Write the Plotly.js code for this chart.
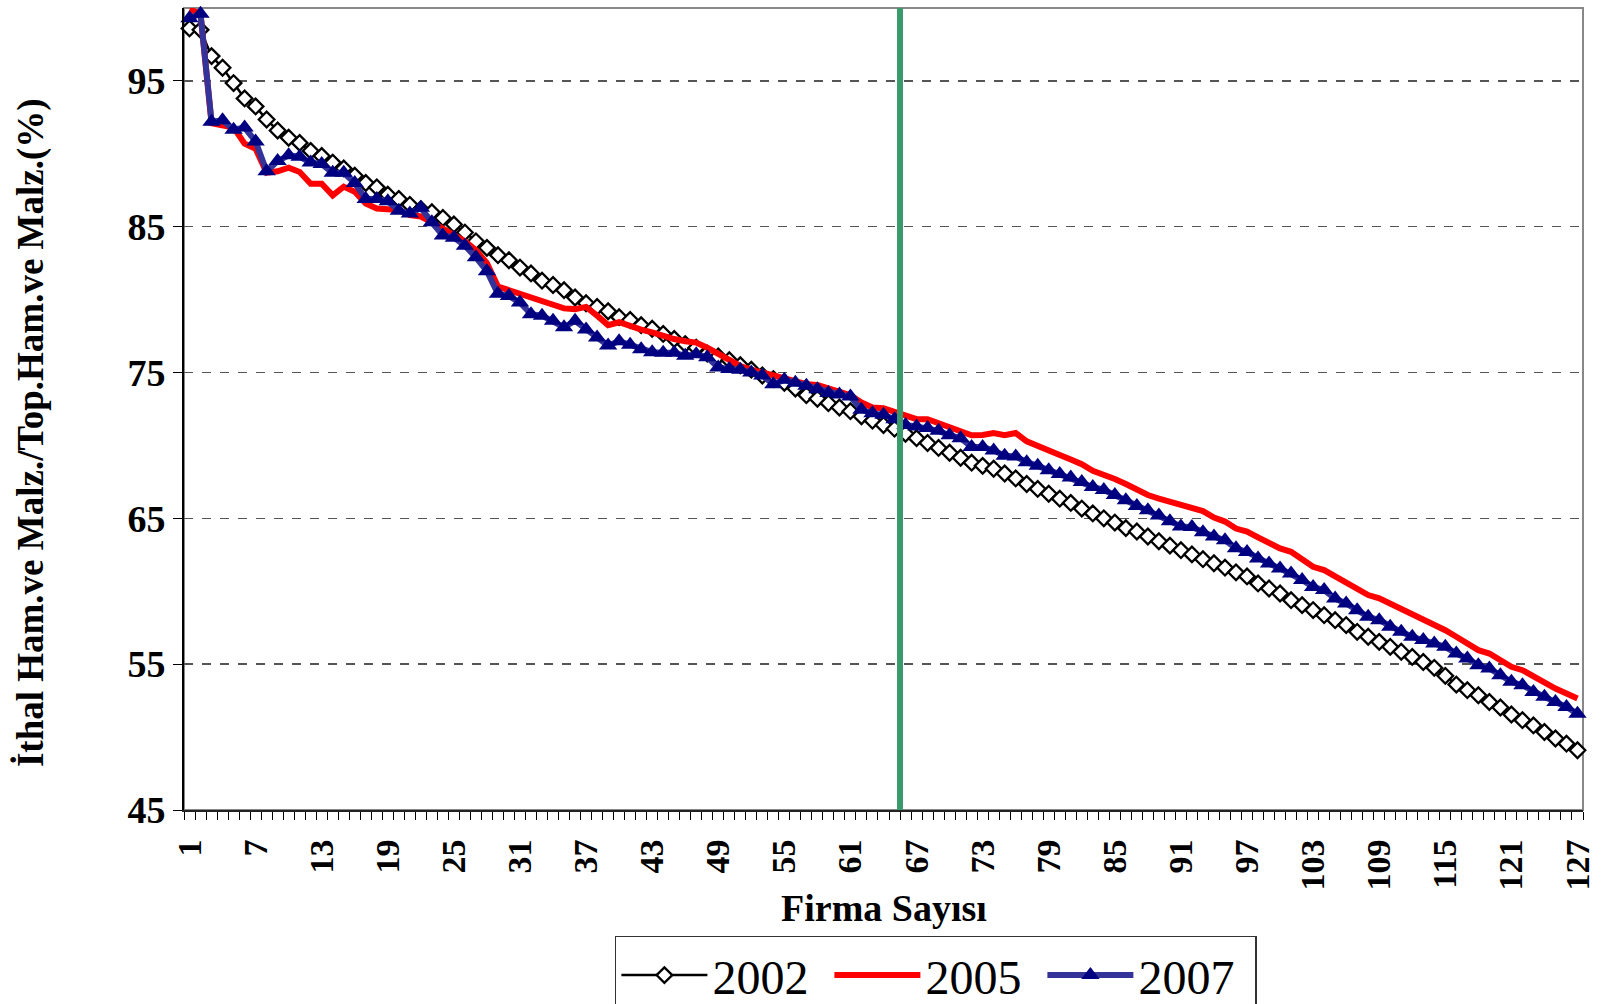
<!DOCTYPE html>
<html>
<head>
<meta charset="utf-8">
<script src="https://cdn.plot.ly/plotly-3.0.1.min.js"></script>
<style>html,body{margin:0;padding:0;background:#fff;}#chart{width:1603px;height:1004px;}</style>
</head>
<body>
<div id="chart"></div>
<script>
// Firm index (category axis 1..127)
const firms = Array.from({length: 127}, (_, i) => i + 1);

const xTickVals = [1,7,13,19,25,31,37,43,49,55,61,67,73,79,85,91,97,103,109,115,121,127];
const yTickVals = [45,55,65,75,85,95];

const y2002 = [98.6,98.5,96.7,95.9,94.85,93.8,93.25,92.35,91.6,91.1,
90.75,90.2,89.85,89.4,89.0,88.5,88.0,87.7,87.2,86.9,
86.5,86.2,86.0,85.6,85.15,84.6,84.0,83.55,83.05,82.7,
82.2,81.8,81.3,81.0,80.65,80.15,79.75,79.5,79.2,78.8,
78.6,78.25,78.0,77.65,77.3,76.95,76.7,76.3,76.1,75.85,
75.5,75.2,74.8,74.55,74.3,73.9,73.45,73.2,72.9,72.6,
72.35,72.0,71.7,71.4,71.15,70.8,70.5,70.17,69.83,69.5,
69.16,68.82,68.6,68.4,68.08,67.74,67.36,67.02,66.69,66.35,
66.06,65.67,65.34,65.0,64.71,64.33,64.1,63.76,63.43,63.13,
62.82,62.53,62.2,61.92,61.62,61.3,61.02,60.54,60.19,59.85,
59.39,59.05,58.71,58.36,58.02,57.68,57.22,56.88,56.53,56.19,
55.85,55.5,55.15,54.75,54.2,53.6,53.22,52.87,52.41,52.03,
51.55,51.16,50.8,50.35,49.9,49.55,49.1];

const y2005 = [99.9,99.6,92.1,91.95,91.8,90.7,90.35,88.7,88.8,89.05,
88.75,87.95,87.95,87.15,87.75,87.4,86.6,86.25,86.2,86.15,
85.8,85.7,85.3,84.85,84.4,84.0,83.4,82.5,80.9,80.65,
80.45,80.2,79.9,79.75,79.4,79.35,79.5,78.9,78.25,78.45,
78.15,77.95,77.75,77.5,77.3,77.15,77.05,76.7,76.25,75.9,
75.45,75.2,75.0,74.75,74.55,74.3,74.2,74.15,73.95,73.7,
73.45,72.95,72.6,72.55,72.3,72.1,71.8,71.8,71.5,71.3,
71.0,70.7,70.72,70.85,70.7,70.85,70.28,69.94,69.65,69.34,
69.04,68.71,68.26,68.03,67.7,67.36,66.96,66.6,66.35,66.12,
65.9,65.67,65.5,65.05,64.78,64.3,64.1,63.7,63.28,62.94,
62.71,62.25,61.68,61.45,61.0,60.54,60.08,59.74,59.51,59.16,
58.71,58.36,58.02,57.68,57.33,56.88,56.42,55.96,55.73,55.32,
54.82,54.59,54.13,53.79,53.33,52.99,52.64];

const y2007 = [99.3,99.6,92.2,92.3,91.65,91.8,90.85,88.8,89.5,89.9,
89.8,89.4,89.3,88.7,88.7,88.0,86.9,86.9,86.75,86.1,
85.9,86.3,85.3,84.4,84.25,83.7,82.9,81.95,80.4,80.25,
79.8,79.0,78.9,78.55,78.1,78.55,77.95,77.4,76.85,77.15,
76.9,76.6,76.4,76.35,76.35,76.15,76.25,76.05,75.35,75.25,
75.2,75.0,74.8,74.2,74.5,74.3,74.1,73.85,73.6,73.5,
73.35,72.45,72.2,72.1,71.8,71.4,71.3,71.2,71.0,70.7,
70.5,69.9,69.9,69.65,69.3,69.25,68.85,68.6,68.3,68.05,
67.8,67.5,67.15,66.95,66.6,66.25,65.85,65.55,65.2,64.8,
64.45,64.4,64.05,63.75,63.5,62.95,62.7,62.25,61.9,61.57,
61.22,60.77,60.3,60.08,59.5,59.16,58.7,58.25,58.02,57.56,
57.22,56.88,56.65,56.42,56.19,55.73,55.39,54.93,54.7,54.24,
53.79,53.56,53.1,52.76,52.41,52.07,51.6];

const seriesNames = ['2002','2005','2007'];
const xTitle = 'Firma Sayısı';
const yTitle = 'İthal Ham.ve Malz./Top.Ham.ve Malz.(%)';
const markerLine = 65.5; // vertical reference line between firm 65 and 66

const serif = '"Liberation Serif", "Times New Roman", serif';

const traces = [
  {x: firms, y: y2002, name: seriesNames[0], type: 'scatter', mode: 'lines+markers',
   line: {color: '#000000', width: 2.5},
   marker: {symbol: 'diamond', size: 12, color: '#ffffff', line: {color: '#000000', width: 2.3}},
   cliponaxis: false},
  {x: firms, y: y2005, name: seriesNames[1], type: 'scatter', mode: 'lines',
   line: {color: '#ff0000', width: 6}, cliponaxis: false},
  {x: firms, y: y2007, name: seriesNames[2], type: 'scatter', mode: 'lines+markers',
   line: {color: '#333399', width: 6},
   marker: {symbol: 'triangle-up', size: 16, color: '#000080', line: {width: 0}},
   cliponaxis: false}
];

const layout = {
  width: 1603, height: 1004,
  margin: {l: 184, r: 20, t: 8, b: 194, autoexpand: false},
  paper_bgcolor: '#ffffff', plot_bgcolor: '#ffffff',
  showlegend: true,
  xaxis: {
    range: [0.5, 127.5],
    tickmode: 'array', tickvals: xTickVals, ticktext: xTickVals.map(String),
    tickangle: -90,
    ticks: 'outside', ticklen: 14, tickcolor: 'rgba(0,0,0,0)',
    minor: {tickmode: 'linear', tick0: 0.5, dtick: 1, ticks: 'outside', ticklen: 8, tickcolor: '#000', tickwidth: 1, showgrid: false},
    tickfont: {family: serif, size: 34, color: '#000', weight: 'bold'},
    showgrid: false, zeroline: false,
    showline: true, linecolor: '#222', linewidth: 2,
    automargin: false, fixedrange: true
  },
  yaxis: {
    range: [45, 100],
    tickmode: 'array', tickvals: yTickVals, ticktext: yTickVals.map(String),
    ticks: 'outside', ticklen: 9, tickcolor: '#000', tickwidth: 1,
    tickfont: {family: serif, size: 38, color: '#000', weight: 'bold'},
    showgrid: true, gridcolor: '#555555', gridwidth: 1.5, griddash: 'dash',
    zeroline: false,
    showline: true, linecolor: '#000', linewidth: 2,
    automargin: false, fixedrange: true
  },
  annotations: [
    {text: xTitle, xref: 'paper', yref: 'paper', x: 0.5, y: 0, yshift: -98,
     xanchor: 'center', yanchor: 'middle', showarrow: false,
     font: {family: serif, size: 38, color: '#000', weight: 'bold'}},
    {text: yTitle, xref: 'paper', yref: 'paper', x: 0, xshift: -153, y: 0.47,
     xanchor: 'center', yanchor: 'middle', textangle: -90, showarrow: false,
     font: {family: serif, size: 37, color: '#000', weight: 'bold'}}
  ],
  legend: {
    orientation: 'h', x: 0.308, xanchor: 'left', y: -0.157, yanchor: 'top',
    bordercolor: '#333', borderwidth: 1.5, bgcolor: '#fff',
    font: {family: serif, size: 48, color: '#000'},
    itemwidth: 86, entrywidth: 112, entrywidthmode: 'pixels', traceorder: 'normal'
  },
  shapes: [
    {type: 'rect', xref: 'paper', yref: 'paper', x0: 0, x1: 1, y0: 0, y1: 1,
     line: {color: '#888888', width: 2}, layer: 'below'},
    {type: 'line', xref: 'x', yref: 'paper', x0: markerLine, x1: markerLine, y0: 0, y1: 1,
     line: {color: '#3a9a6c', width: 6}, layer: 'above'}
  ]
};

Plotly.newPlot('chart', traces, layout, {displayModeBar: false, staticPlot: true});
</script>
</body>
</html>
